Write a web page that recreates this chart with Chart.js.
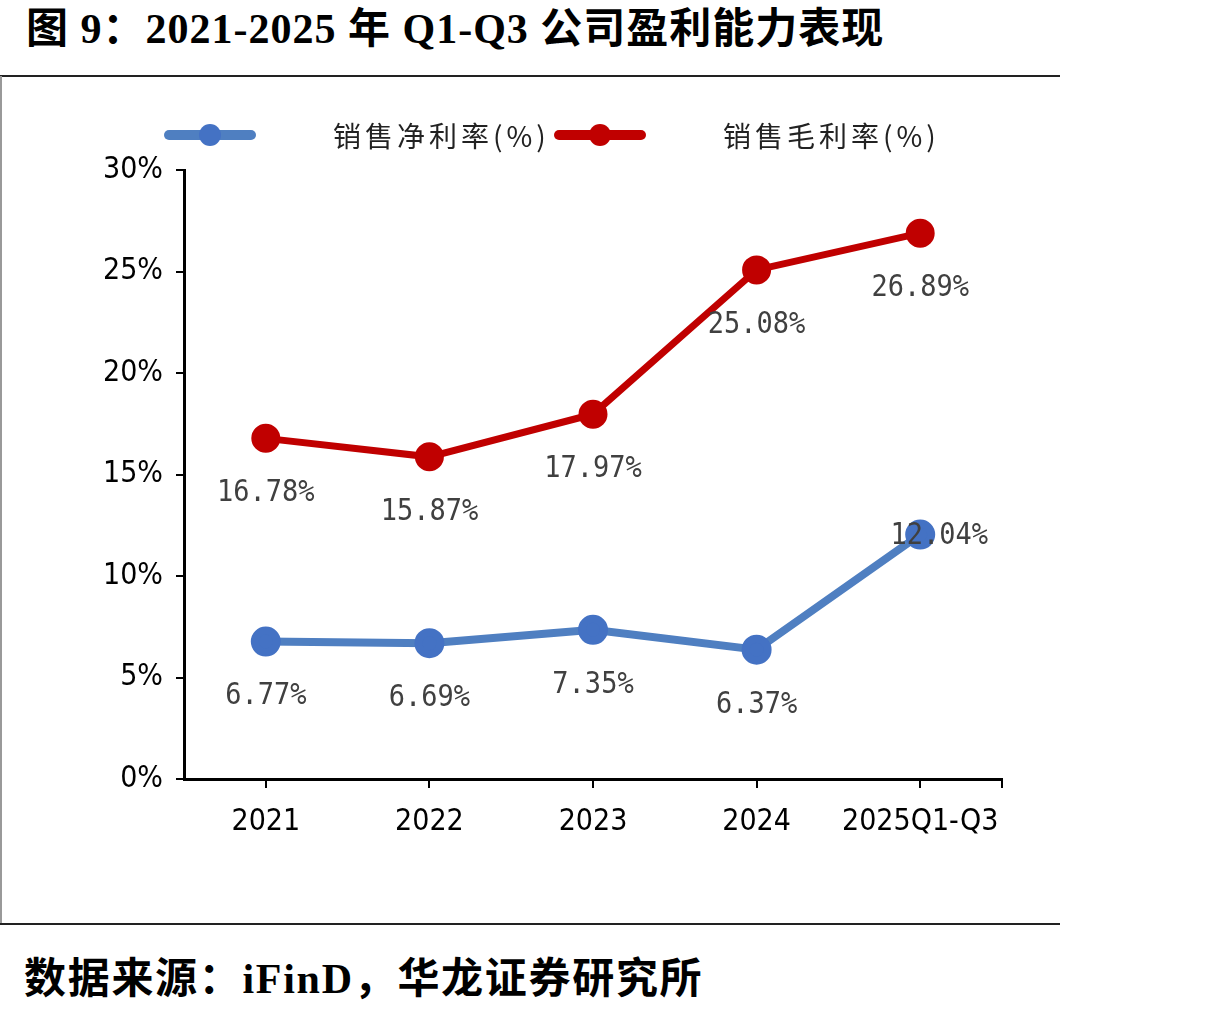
<!DOCTYPE html>
<html>
<head>
<meta charset="utf-8">
<script src="https://cdn.jsdelivr.net/npm/chart.js@4.4.0/dist/chart.umd.min.js"></script>
<style>
  body { margin: 0; background: #fff; width: 1217px; height: 1010px; overflow: hidden; position: relative; }
  #title { position: absolute; left: 26px; top: -6px; font: bold 42px "Liberation Serif", "Noto Sans CJK SC"; letter-spacing: 1px; color: #000; white-space: nowrap; }
  #source { position: absolute; left: 24px; top: 944px; font: bold 42px "Liberation Serif", "Noto Sans CJK SC"; letter-spacing: 1.7px; color: #000; white-space: nowrap; }
  .hline { position: absolute; left: 0; width: 1060px; height: 2px; background: #222; }
  #vline { position: absolute; left: 0; top: 76px; width: 2px; height: 848px; background: #999; }
  canvas { position: absolute; left: 0; top: 0; }
</style>
</head>
<body>
<div id="title">图 9：2021-2025 年 Q1-Q3 公司盈利能力表现</div>
<div class="hline" style="top:75px"></div>
<div id="vline"></div>
<div class="hline" style="top:923px"></div>
<div id="source">数据来源：iFinD，华龙证券研究所</div>
<canvas id="canvas" width="1217" height="1010"></canvas>
<script>
// data
let years = ['2021', '2022', '2023', '2024', '2025Q1-Q3'];
let netMargin = [6.77, 6.69, 7.35, 6.37, 12.04];
let grossMargin = [16.78, 15.87, 17.97, 25.08, 26.89];
let yTicks = [0, 5, 10, 15, 20, 25, 30];

// where each value label sits relative to its point
let netLabelPos = ['below', 'below', 'below', 'below', 'right'];
let grossLabelPos = ['below', 'below', 'below', 'below', 'below'];

let axisFont = { family: '"Liberation Sans Narrow", "DejaVu Sans Condensed", sans-serif', size: 30 };

// value labels
let valueLabels = {
  id: 'valueLabels',
  afterDatasetsDraw(chart) {
    let ctx = chart.ctx;
    ctx.save();
    ctx.font = '27px "DejaVu Sans Mono", monospace';
    ctx.fillStyle = '#404040';
    ctx.textAlign = 'center';
    ctx.textBaseline = 'middle';
    chart.data.datasets.forEach((ds, i) => {
      let meta = chart.getDatasetMeta(i);
      meta.data.forEach((pt, j) => {
        let txt = ds.data[j].toFixed(2) + '%';
        let x = pt.x, y = pt.y + 55;
        if (ds.labelPos[j] === 'right') {
          x = pt.x + 19;
          y = pt.y + 2;
        }
        // slightly taller glyphs, like the original
        ctx.save();
        ctx.translate(x, y);
        ctx.scale(1, 1.12);
        ctx.fillText(txt, 0, 0);
        ctx.restore();
      });
    });
    ctx.restore();
  }
};

// legend drawn by hand: line + marker, big gap, label
let lineLegend = {
  id: 'lineLegend',
  afterDraw(chart) {
    let ctx = chart.ctx;
    let starts = [165, 555];
    ctx.save();
    chart.data.datasets.forEach((ds, i) => {
      let x = starts[i], y = 135;
      ctx.strokeStyle = ds.borderColor;
      ctx.lineWidth = 10;
      ctx.lineCap = 'round';
      ctx.beginPath();
      ctx.moveTo(x + 4, y);
      ctx.lineTo(x + 86, y);
      ctx.stroke();
      ctx.fillStyle = ds.pointBackgroundColor;
      ctx.beginPath();
      ctx.arc(x + 45, y, 11, 0, Math.PI * 2);
      ctx.fill();
      ctx.fillStyle = '#222';
      ctx.font = '28px "Noto Sans CJK SC"';
      ctx.letterSpacing = '4px';
      ctx.textBaseline = 'middle';
      ctx.fillText(ds.label, x + 168, y + 1);
    });
    ctx.restore();
  }
};

// little tick at the right end of the x axis
let endTick = {
  id: 'endTick',
  afterDraw(chart) {
    let ctx = chart.ctx, a = chart.chartArea;
    ctx.save();
    ctx.strokeStyle = '#000';
    ctx.lineWidth = 2;
    ctx.beginPath();
    ctx.moveTo(a.right, a.bottom);
    ctx.lineTo(a.right, a.bottom + 9);
    ctx.stroke();
    ctx.restore();
  }
};

let chart = new Chart(document.getElementById('canvas').getContext('2d'), {
  type: 'line',
  data: {
    labels: years,
    datasets: [{
      label: '销售净利率(%)',
      data: netMargin,
      labelPos: netLabelPos,
      borderColor: '#4f7fc1',
      backgroundColor: '#4472c4',
      pointBackgroundColor: '#4472c4',
      pointBorderColor: '#4472c4',
      borderWidth: 8,
      pointRadius: 11,
      tension: 0
    }, {
      label: '销售毛利率(%)',
      data: grossMargin,
      labelPos: grossLabelPos,
      borderColor: '#c00000',
      backgroundColor: '#c00000',
      pointBackgroundColor: '#c00000',
      pointBorderColor: '#c00000',
      borderWidth: 7,
      pointRadius: 11,
      tension: 0
    }]
  },
  plugins: [valueLabels, lineLegend, endTick],
  options: {
    responsive: false,
    animation: false,
    layout: { padding: { left: 0, top: 170, right: 215, bottom: 161 } },
    plugins: { legend: { display: false }, tooltip: { enabled: false } },
    scales: {
      x: {
        offset: true,
        grid: { offset: false, drawOnChartArea: false, color: '#000', lineWidth: 2, tickLength: 9 },
        border: { color: '#000', width: 3 },
        ticks: { color: '#000', font: axisFont, padding: 16 },
        afterFit(scale) { scale.height = 70; }
      },
      y: {
        min: 0,
        max: 30,
        afterBuildTicks(scale) { scale.ticks = yTicks.map(v => ({ value: v })); },
        grid: { drawOnChartArea: false, color: '#000', lineWidth: 2, tickLength: 8 },
        border: { color: '#000', width: 3 },
        ticks: { color: '#000', font: axisFont, padding: 13, callback: v => v + '%' },
        afterFit(scale) { scale.width = 184; }
      }
    }
  }
});
</script>
</body>
</html>
